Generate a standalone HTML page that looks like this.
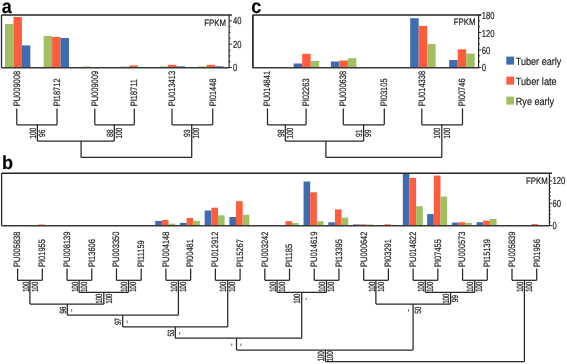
<!DOCTYPE html>
<html><head><meta charset="utf-8"><title>FPKM</title>
<style>
html,body{margin:0;padding:0;background:#fff;}
body{width:567px;height:364px;overflow:hidden;}
svg{display:block;font-family:"Liberation Sans",sans-serif;filter:blur(0.3px);}
text{stroke:#1a1a1a;stroke-width:0.18px;text-rendering:geometricPrecision;}
</style></head><body>
<svg width="567" height="364" viewBox="0 0 567 364">
<rect width="567" height="364" fill="#fff"/>
<text transform="translate(1.7,12.6) scale(0.92,1)" font-size="19.6" font-weight="bold" fill="#000">a</text>
<rect x="5.00" y="24.00" width="8.45" height="43.50" fill="#9fbf61"/>
<rect x="13.45" y="17.00" width="8.45" height="50.50" fill="#ff5d3c"/>
<rect x="21.90" y="45.40" width="8.45" height="22.10" fill="#3e6cae"/>
<rect x="43.64" y="36.00" width="8.45" height="31.50" fill="#9fbf61"/>
<rect x="52.09" y="36.90" width="8.45" height="30.60" fill="#ff5d3c"/>
<rect x="60.54" y="38.00" width="8.45" height="29.50" fill="#3e6cae"/>
<rect x="82.28" y="66.60" width="8.45" height="0.90" fill="#9fbf61"/>
<rect x="120.92" y="66.60" width="8.45" height="0.90" fill="#9fbf61"/>
<rect x="129.37" y="65.40" width="8.45" height="2.10" fill="#ff5d3c"/>
<rect x="159.56" y="66.50" width="8.45" height="1.00" fill="#9fbf61"/>
<rect x="168.01" y="64.80" width="8.45" height="2.70" fill="#ff5d3c"/>
<rect x="176.46" y="66.30" width="8.45" height="1.20" fill="#3e6cae"/>
<rect x="198.20" y="66.50" width="8.45" height="1.00" fill="#9fbf61"/>
<rect x="206.65" y="64.80" width="8.45" height="2.70" fill="#ff5d3c"/>
<rect x="215.10" y="66.30" width="8.45" height="1.20" fill="#3e6cae"/>
<line x1="1.50" y1="15.00" x2="231.90" y2="15.00" stroke="#262626" stroke-width="1.6"/>
<line x1="1.50" y1="15.00" x2="1.50" y2="67.50" stroke="#262626" stroke-width="1.3"/>
<line x1="1.50" y1="67.80" x2="229.10" y2="67.80" stroke="#383838" stroke-width="1.45"/>
<line x1="229.10" y1="15.00" x2="229.10" y2="68.00" stroke="#262626" stroke-width="1.2"/>
<line x1="229.10" y1="67.50" x2="231.90" y2="67.50" stroke="#262626" stroke-width="1.0"/>
<line x1="229.10" y1="61.67" x2="230.50" y2="61.67" stroke="#262626" stroke-width="0.9"/>
<line x1="229.10" y1="55.84" x2="230.50" y2="55.84" stroke="#262626" stroke-width="0.9"/>
<line x1="229.10" y1="50.01" x2="230.50" y2="50.01" stroke="#262626" stroke-width="0.9"/>
<line x1="229.10" y1="44.18" x2="231.90" y2="44.18" stroke="#262626" stroke-width="1.0"/>
<line x1="229.10" y1="38.35" x2="230.50" y2="38.35" stroke="#262626" stroke-width="0.9"/>
<line x1="229.10" y1="32.52" x2="230.50" y2="32.52" stroke="#262626" stroke-width="0.9"/>
<line x1="229.10" y1="26.69" x2="230.50" y2="26.69" stroke="#262626" stroke-width="0.9"/>
<line x1="229.10" y1="20.86" x2="231.90" y2="20.86" stroke="#262626" stroke-width="1.0"/>
<text transform="translate(233.10,24.15) scale(0.75,1)" font-size="10.2" fill="#1a1a1a" text-anchor="start">40</text>
<text transform="translate(233.10,48.05) scale(0.75,1)" font-size="10.2" fill="#1a1a1a" text-anchor="start">20</text>
<text transform="translate(233.10,70.75) scale(0.75,1)" font-size="10.2" fill="#1a1a1a" text-anchor="start">0</text>
<text transform="translate(226.00,25.60) scale(0.845,1)" font-size="9.3" fill="#1a1a1a" text-anchor="end">FPKM</text>
<text transform="translate(19.60,106.30) rotate(-90) scale(0.805,1)" font-size="9.3" fill="#1a1a1a" text-anchor="start">PU009008</text>
<line x1="16.75" y1="108.40" x2="16.75" y2="124.85" stroke="#272727" stroke-width="1.25"/>
<text transform="translate(59.85,106.30) rotate(-90) scale(0.805,1)" font-size="9.3" fill="#1a1a1a" text-anchor="start">PI18712</text>
<line x1="57.00" y1="108.40" x2="57.00" y2="124.85" stroke="#272727" stroke-width="1.25"/>
<text transform="translate(97.65,106.30) rotate(-90) scale(0.805,1)" font-size="9.3" fill="#1a1a1a" text-anchor="start">PU009009</text>
<line x1="94.80" y1="108.40" x2="94.80" y2="124.85" stroke="#272727" stroke-width="1.25"/>
<text transform="translate(137.15,106.30) rotate(-90) scale(0.805,1)" font-size="9.3" fill="#1a1a1a" text-anchor="start">PI18711</text>
<line x1="134.30" y1="108.40" x2="134.30" y2="124.85" stroke="#272727" stroke-width="1.25"/>
<text transform="translate(174.85,106.30) rotate(-90) scale(0.805,1)" font-size="9.3" fill="#1a1a1a" text-anchor="start">PU013413</text>
<line x1="172.00" y1="108.40" x2="172.00" y2="124.85" stroke="#272727" stroke-width="1.25"/>
<text transform="translate(215.55,106.30) rotate(-90) scale(0.805,1)" font-size="9.3" fill="#1a1a1a" text-anchor="start">PI01448</text>
<line x1="212.70" y1="108.40" x2="212.70" y2="124.85" stroke="#272727" stroke-width="1.25"/>
<line x1="16.75" y1="124.85" x2="57.00" y2="124.85" stroke="#272727" stroke-width="1.25"/>
<line x1="37.40" y1="124.85" x2="37.40" y2="141.10" stroke="#272727" stroke-width="1.25"/>
<line x1="94.80" y1="124.85" x2="134.30" y2="124.85" stroke="#272727" stroke-width="1.25"/>
<line x1="114.30" y1="124.85" x2="114.30" y2="141.10" stroke="#272727" stroke-width="1.25"/>
<line x1="37.40" y1="141.10" x2="114.30" y2="141.10" stroke="#272727" stroke-width="1.25"/>
<line x1="81.10" y1="141.10" x2="81.10" y2="157.40" stroke="#272727" stroke-width="1.25"/>
<line x1="172.00" y1="124.85" x2="212.70" y2="124.85" stroke="#272727" stroke-width="1.25"/>
<line x1="191.70" y1="124.85" x2="191.70" y2="157.40" stroke="#272727" stroke-width="1.25"/>
<line x1="81.10" y1="157.40" x2="191.70" y2="157.40" stroke="#272727" stroke-width="1.25"/>
<text transform="translate(36.00,133.28) rotate(-90) scale(0.76,1)" font-size="9.0" fill="#1a1a1a" text-anchor="middle" letter-spacing="-0.2">100</text>
<text transform="translate(45.10,133.28) rotate(-90) scale(0.76,1)" font-size="9.0" fill="#1a1a1a" text-anchor="middle" letter-spacing="-0.2">96</text>
<text transform="translate(112.90,133.28) rotate(-90) scale(0.76,1)" font-size="9.0" fill="#1a1a1a" text-anchor="middle" letter-spacing="-0.2">88</text>
<text transform="translate(122.00,133.28) rotate(-90) scale(0.76,1)" font-size="9.0" fill="#1a1a1a" text-anchor="middle" letter-spacing="-0.2">100</text>
<text transform="translate(190.30,133.28) rotate(-90) scale(0.76,1)" font-size="9.0" fill="#1a1a1a" text-anchor="middle" letter-spacing="-0.2">93</text>
<text transform="translate(199.40,133.28) rotate(-90) scale(0.76,1)" font-size="9.0" fill="#1a1a1a" text-anchor="middle" letter-spacing="-0.2">100</text>
<text transform="translate(251.2,12.6) scale(0.92,1)" font-size="19.6" font-weight="bold" fill="#000">c</text>
<rect x="293.70" y="63.50" width="8.50" height="4.00" fill="#3e6cae"/>
<rect x="302.20" y="53.80" width="8.50" height="13.70" fill="#ff5d3c"/>
<rect x="310.70" y="60.90" width="8.50" height="6.60" fill="#9fbf61"/>
<rect x="330.90" y="61.50" width="8.50" height="6.00" fill="#3e6cae"/>
<rect x="339.40" y="60.50" width="8.50" height="7.00" fill="#ff5d3c"/>
<rect x="347.90" y="58.20" width="8.50" height="9.30" fill="#9fbf61"/>
<rect x="410.20" y="18.20" width="8.50" height="49.30" fill="#3e6cae"/>
<rect x="418.70" y="25.90" width="8.50" height="41.60" fill="#ff5d3c"/>
<rect x="427.20" y="44.10" width="8.50" height="23.40" fill="#9fbf61"/>
<rect x="449.20" y="60.00" width="8.50" height="7.50" fill="#3e6cae"/>
<rect x="457.70" y="49.30" width="8.50" height="18.20" fill="#ff5d3c"/>
<rect x="466.20" y="53.60" width="8.50" height="13.90" fill="#9fbf61"/>
<line x1="252.60" y1="15.00" x2="481.10" y2="15.00" stroke="#262626" stroke-width="1.6"/>
<line x1="252.90" y1="15.00" x2="252.90" y2="68.10" stroke="#262626" stroke-width="1.7"/>
<line x1="252.60" y1="67.80" x2="478.60" y2="67.80" stroke="#383838" stroke-width="1.45"/>
<line x1="478.60" y1="15.00" x2="478.60" y2="68.00" stroke="#262626" stroke-width="1.2"/>
<line x1="478.60" y1="67.50" x2="481.20" y2="67.50" stroke="#262626" stroke-width="1.0"/>
<line x1="478.60" y1="61.67" x2="480.00" y2="61.67" stroke="#262626" stroke-width="0.9"/>
<line x1="478.60" y1="55.83" x2="480.00" y2="55.83" stroke="#262626" stroke-width="0.9"/>
<line x1="478.60" y1="50.00" x2="481.20" y2="50.00" stroke="#262626" stroke-width="1.0"/>
<line x1="478.60" y1="44.17" x2="480.00" y2="44.17" stroke="#262626" stroke-width="0.9"/>
<line x1="478.60" y1="38.34" x2="480.00" y2="38.34" stroke="#262626" stroke-width="0.9"/>
<line x1="478.60" y1="32.50" x2="481.20" y2="32.50" stroke="#262626" stroke-width="1.0"/>
<line x1="478.60" y1="26.67" x2="480.00" y2="26.67" stroke="#262626" stroke-width="0.9"/>
<line x1="478.60" y1="20.84" x2="480.00" y2="20.84" stroke="#262626" stroke-width="0.9"/>
<line x1="478.60" y1="15.00" x2="481.20" y2="15.00" stroke="#262626" stroke-width="1.0"/>
<text transform="translate(481.70,18.65) scale(0.75,1)" font-size="10.2" fill="#1a1a1a" text-anchor="start">180</text>
<text transform="translate(481.70,37.45) scale(0.75,1)" font-size="10.2" fill="#1a1a1a" text-anchor="start">120</text>
<text transform="translate(481.70,53.95) scale(0.75,1)" font-size="10.2" fill="#1a1a1a" text-anchor="start">60</text>
<text transform="translate(481.70,71.25) scale(0.75,1)" font-size="10.2" fill="#1a1a1a" text-anchor="start">0</text>
<text transform="translate(475.50,25.20) scale(0.845,1)" font-size="9.3" fill="#1a1a1a" text-anchor="end">FPKM</text>
<text transform="translate(270.35,106.30) rotate(-90) scale(0.805,1)" font-size="9.3" fill="#1a1a1a" text-anchor="start">PU014841</text>
<line x1="267.50" y1="108.40" x2="267.50" y2="124.85" stroke="#272727" stroke-width="1.25"/>
<text transform="translate(308.95,106.30) rotate(-90) scale(0.805,1)" font-size="9.3" fill="#1a1a1a" text-anchor="start">PI02263</text>
<line x1="306.10" y1="108.40" x2="306.10" y2="124.85" stroke="#272727" stroke-width="1.25"/>
<text transform="translate(346.15,106.30) rotate(-90) scale(0.805,1)" font-size="9.3" fill="#1a1a1a" text-anchor="start">PU000638</text>
<line x1="343.30" y1="108.40" x2="343.30" y2="124.85" stroke="#272727" stroke-width="1.25"/>
<text transform="translate(387.15,106.30) rotate(-90) scale(0.805,1)" font-size="9.3" fill="#1a1a1a" text-anchor="start">PI03105</text>
<line x1="384.30" y1="108.40" x2="384.30" y2="124.85" stroke="#272727" stroke-width="1.25"/>
<text transform="translate(424.65,106.30) rotate(-90) scale(0.805,1)" font-size="9.3" fill="#1a1a1a" text-anchor="start">PU014338</text>
<line x1="421.80" y1="108.40" x2="421.80" y2="124.85" stroke="#272727" stroke-width="1.25"/>
<text transform="translate(465.35,106.30) rotate(-90) scale(0.805,1)" font-size="9.3" fill="#1a1a1a" text-anchor="start">PI00746</text>
<line x1="462.50" y1="108.40" x2="462.50" y2="124.85" stroke="#272727" stroke-width="1.25"/>
<line x1="267.50" y1="124.85" x2="306.10" y2="124.85" stroke="#272727" stroke-width="1.25"/>
<line x1="285.30" y1="124.85" x2="285.30" y2="141.10" stroke="#272727" stroke-width="1.25"/>
<line x1="343.30" y1="124.85" x2="384.30" y2="124.85" stroke="#272727" stroke-width="1.25"/>
<line x1="363.60" y1="124.85" x2="363.60" y2="141.10" stroke="#272727" stroke-width="1.25"/>
<line x1="285.30" y1="141.10" x2="363.60" y2="141.10" stroke="#272727" stroke-width="1.25"/>
<line x1="325.90" y1="141.10" x2="325.90" y2="157.40" stroke="#272727" stroke-width="1.25"/>
<line x1="421.80" y1="124.85" x2="462.50" y2="124.85" stroke="#272727" stroke-width="1.25"/>
<line x1="441.80" y1="124.85" x2="441.80" y2="157.40" stroke="#272727" stroke-width="1.25"/>
<line x1="325.90" y1="157.40" x2="441.80" y2="157.40" stroke="#272727" stroke-width="1.25"/>
<text transform="translate(283.90,133.28) rotate(-90) scale(0.76,1)" font-size="9.0" fill="#1a1a1a" text-anchor="middle" letter-spacing="-0.2">98</text>
<text transform="translate(293.00,133.28) rotate(-90) scale(0.76,1)" font-size="9.0" fill="#1a1a1a" text-anchor="middle" letter-spacing="-0.2">100</text>
<text transform="translate(362.20,133.28) rotate(-90) scale(0.76,1)" font-size="9.0" fill="#1a1a1a" text-anchor="middle" letter-spacing="-0.2">91</text>
<text transform="translate(371.30,133.28) rotate(-90) scale(0.76,1)" font-size="9.0" fill="#1a1a1a" text-anchor="middle" letter-spacing="-0.2">99</text>
<text transform="translate(440.40,133.28) rotate(-90) scale(0.76,1)" font-size="9.0" fill="#1a1a1a" text-anchor="middle" letter-spacing="-0.2">100</text>
<text transform="translate(449.50,133.28) rotate(-90) scale(0.76,1)" font-size="9.0" fill="#1a1a1a" text-anchor="middle" letter-spacing="-0.2">100</text>
<rect x="506.30" y="56.60" width="7.80" height="8.00" fill="#3e6cae"/>
<text x="515.80" y="64.60" font-size="10.5" fill="#1a1a1a" text-anchor="start" textLength="45.5" lengthAdjust="spacingAndGlyphs">Tuber early</text>
<rect x="506.30" y="76.60" width="7.80" height="8.00" fill="#ff5d3c"/>
<text x="515.80" y="84.60" font-size="10.5" fill="#1a1a1a" text-anchor="start" textLength="40.8" lengthAdjust="spacingAndGlyphs">Tuber late</text>
<rect x="506.30" y="96.60" width="7.80" height="8.00" fill="#9fbf61"/>
<text x="515.80" y="104.60" font-size="10.5" fill="#1a1a1a" text-anchor="start" textLength="38.3" lengthAdjust="spacingAndGlyphs">Rye early</text>
<text transform="translate(2.0,168.5) scale(0.96,1)" font-size="18.9" font-weight="bold" fill="#000">b</text>
<rect x="38.27" y="224.50" width="6.65" height="1.10" fill="#ff5d3c"/>
<rect x="155.22" y="220.90" width="6.65" height="4.70" fill="#3e6cae"/>
<rect x="161.87" y="220.00" width="6.65" height="5.60" fill="#ff5d3c"/>
<rect x="168.52" y="223.60" width="6.65" height="2.00" fill="#9fbf61"/>
<rect x="179.94" y="222.90" width="6.65" height="2.70" fill="#3e6cae"/>
<rect x="186.59" y="217.90" width="6.65" height="7.70" fill="#ff5d3c"/>
<rect x="193.24" y="220.90" width="6.65" height="4.70" fill="#9fbf61"/>
<rect x="204.66" y="210.50" width="6.65" height="15.10" fill="#3e6cae"/>
<rect x="211.31" y="207.70" width="6.65" height="17.90" fill="#ff5d3c"/>
<rect x="217.96" y="215.30" width="6.65" height="10.30" fill="#9fbf61"/>
<rect x="229.38" y="217.00" width="6.65" height="8.60" fill="#3e6cae"/>
<rect x="236.03" y="201.20" width="6.65" height="24.40" fill="#ff5d3c"/>
<rect x="242.68" y="214.80" width="6.65" height="10.80" fill="#9fbf61"/>
<rect x="278.82" y="225.00" width="6.65" height="0.60" fill="#3e6cae"/>
<rect x="285.47" y="221.20" width="6.65" height="4.40" fill="#ff5d3c"/>
<rect x="292.12" y="223.00" width="6.65" height="2.60" fill="#9fbf61"/>
<rect x="303.54" y="181.50" width="6.65" height="44.10" fill="#3e6cae"/>
<rect x="310.19" y="192.30" width="6.65" height="33.30" fill="#ff5d3c"/>
<rect x="316.84" y="221.20" width="6.65" height="4.40" fill="#9fbf61"/>
<rect x="328.26" y="222.30" width="6.65" height="3.30" fill="#3e6cae"/>
<rect x="334.91" y="209.40" width="6.65" height="16.20" fill="#ff5d3c"/>
<rect x="341.56" y="217.70" width="6.65" height="7.90" fill="#9fbf61"/>
<rect x="352.98" y="224.40" width="6.65" height="1.20" fill="#3e6cae"/>
<rect x="359.63" y="224.40" width="6.65" height="1.20" fill="#ff5d3c"/>
<rect x="366.28" y="224.50" width="6.65" height="1.10" fill="#9fbf61"/>
<rect x="384.35" y="224.30" width="6.65" height="1.30" fill="#ff5d3c"/>
<rect x="402.82" y="173.90" width="6.65" height="51.70" fill="#3e6cae"/>
<rect x="409.47" y="177.90" width="6.65" height="47.70" fill="#ff5d3c"/>
<rect x="416.12" y="206.20" width="6.65" height="19.40" fill="#9fbf61"/>
<rect x="427.14" y="214.10" width="6.65" height="11.50" fill="#3e6cae"/>
<rect x="433.79" y="175.60" width="6.65" height="50.00" fill="#ff5d3c"/>
<rect x="440.44" y="196.50" width="6.65" height="29.10" fill="#9fbf61"/>
<rect x="451.86" y="222.60" width="6.65" height="3.00" fill="#3e6cae"/>
<rect x="458.51" y="222.20" width="6.65" height="3.40" fill="#ff5d3c"/>
<rect x="465.16" y="222.90" width="6.65" height="2.70" fill="#9fbf61"/>
<rect x="476.58" y="222.20" width="6.65" height="3.40" fill="#3e6cae"/>
<rect x="483.23" y="220.60" width="6.65" height="5.00" fill="#ff5d3c"/>
<rect x="489.88" y="219.00" width="6.65" height="6.60" fill="#9fbf61"/>
<rect x="531.27" y="224.10" width="6.65" height="1.50" fill="#ff5d3c"/>
<line x1="1.60" y1="173.25" x2="552.00" y2="173.25" stroke="#262626" stroke-width="1.6"/>
<line x1="1.60" y1="173.25" x2="1.60" y2="225.60" stroke="#262626" stroke-width="1.3"/>
<line x1="1.60" y1="225.80" x2="549.40" y2="225.80" stroke="#383838" stroke-width="1.45"/>
<line x1="549.40" y1="173.25" x2="549.40" y2="226.10" stroke="#262626" stroke-width="1.2"/>
<line x1="549.40" y1="225.60" x2="552.00" y2="225.60" stroke="#262626" stroke-width="1.0"/>
<line x1="549.40" y1="221.88" x2="550.80" y2="221.88" stroke="#262626" stroke-width="0.9"/>
<line x1="549.40" y1="218.15" x2="550.80" y2="218.15" stroke="#262626" stroke-width="0.9"/>
<line x1="549.40" y1="214.43" x2="550.80" y2="214.43" stroke="#262626" stroke-width="0.9"/>
<line x1="549.40" y1="210.70" x2="550.80" y2="210.70" stroke="#262626" stroke-width="0.9"/>
<line x1="549.40" y1="206.97" x2="550.80" y2="206.97" stroke="#262626" stroke-width="0.9"/>
<line x1="549.40" y1="203.25" x2="552.00" y2="203.25" stroke="#262626" stroke-width="1.0"/>
<line x1="549.40" y1="199.53" x2="550.80" y2="199.53" stroke="#262626" stroke-width="0.9"/>
<line x1="549.40" y1="195.80" x2="550.80" y2="195.80" stroke="#262626" stroke-width="0.9"/>
<line x1="549.40" y1="192.07" x2="550.80" y2="192.07" stroke="#262626" stroke-width="0.9"/>
<line x1="549.40" y1="188.35" x2="550.80" y2="188.35" stroke="#262626" stroke-width="0.9"/>
<line x1="549.40" y1="184.62" x2="550.80" y2="184.62" stroke="#262626" stroke-width="0.9"/>
<line x1="549.40" y1="180.90" x2="552.00" y2="180.90" stroke="#262626" stroke-width="1.0"/>
<line x1="549.40" y1="177.18" x2="550.80" y2="177.18" stroke="#262626" stroke-width="0.9"/>
<line x1="549.40" y1="173.45" x2="550.80" y2="173.45" stroke="#262626" stroke-width="0.9"/>
<text transform="translate(552.60,184.35) scale(0.75,1)" font-size="10.2" fill="#1a1a1a" text-anchor="start">120</text>
<text transform="translate(552.60,207.25) scale(0.75,1)" font-size="10.2" fill="#1a1a1a" text-anchor="start">60</text>
<text transform="translate(552.60,228.85) scale(0.75,1)" font-size="10.2" fill="#1a1a1a" text-anchor="start">0</text>
<text transform="translate(547.70,184.00) scale(0.845,1)" font-size="9.3" fill="#1a1a1a" text-anchor="end">FPKM</text>
<text transform="translate(20.45,267.00) rotate(-90) scale(0.805,1)" font-size="9.3" fill="#1a1a1a" text-anchor="start">PU005838</text>
<line x1="17.60" y1="268.50" x2="17.60" y2="280.30" stroke="#272727" stroke-width="1.25"/>
<text transform="translate(45.17,267.00) rotate(-90) scale(0.805,1)" font-size="9.3" fill="#1a1a1a" text-anchor="start">PI01955</text>
<line x1="42.32" y1="268.50" x2="42.32" y2="280.30" stroke="#272727" stroke-width="1.25"/>
<text transform="translate(69.89,267.00) rotate(-90) scale(0.805,1)" font-size="9.3" fill="#1a1a1a" text-anchor="start">PU008139</text>
<line x1="67.04" y1="268.50" x2="67.04" y2="280.30" stroke="#272727" stroke-width="1.25"/>
<text transform="translate(94.61,267.00) rotate(-90) scale(0.805,1)" font-size="9.3" fill="#1a1a1a" text-anchor="start">PI13606</text>
<line x1="91.76" y1="268.50" x2="91.76" y2="280.30" stroke="#272727" stroke-width="1.25"/>
<text transform="translate(119.33,267.00) rotate(-90) scale(0.805,1)" font-size="9.3" fill="#1a1a1a" text-anchor="start">PU003350</text>
<line x1="116.48" y1="268.50" x2="116.48" y2="280.30" stroke="#272727" stroke-width="1.25"/>
<text transform="translate(144.05,267.00) rotate(-90) scale(0.805,1)" font-size="9.3" fill="#1a1a1a" text-anchor="start">PI11159</text>
<line x1="141.20" y1="268.50" x2="141.20" y2="280.30" stroke="#272727" stroke-width="1.25"/>
<text transform="translate(168.77,267.00) rotate(-90) scale(0.805,1)" font-size="9.3" fill="#1a1a1a" text-anchor="start">PU004148</text>
<line x1="165.92" y1="268.50" x2="165.92" y2="280.30" stroke="#272727" stroke-width="1.25"/>
<text transform="translate(193.49,267.00) rotate(-90) scale(0.805,1)" font-size="9.3" fill="#1a1a1a" text-anchor="start">PI00481</text>
<line x1="190.64" y1="268.50" x2="190.64" y2="280.30" stroke="#272727" stroke-width="1.25"/>
<text transform="translate(218.21,267.00) rotate(-90) scale(0.805,1)" font-size="9.3" fill="#1a1a1a" text-anchor="start">PU012912</text>
<line x1="215.36" y1="268.50" x2="215.36" y2="280.30" stroke="#272727" stroke-width="1.25"/>
<text transform="translate(242.93,267.00) rotate(-90) scale(0.805,1)" font-size="9.3" fill="#1a1a1a" text-anchor="start">PI15267</text>
<line x1="240.08" y1="268.50" x2="240.08" y2="280.30" stroke="#272727" stroke-width="1.25"/>
<text transform="translate(267.65,267.00) rotate(-90) scale(0.805,1)" font-size="9.3" fill="#1a1a1a" text-anchor="start">PU003242</text>
<line x1="264.80" y1="268.50" x2="264.80" y2="280.30" stroke="#272727" stroke-width="1.25"/>
<text transform="translate(292.37,267.00) rotate(-90) scale(0.805,1)" font-size="9.3" fill="#1a1a1a" text-anchor="start">PI1185</text>
<line x1="289.52" y1="268.50" x2="289.52" y2="280.30" stroke="#272727" stroke-width="1.25"/>
<text transform="translate(317.09,267.00) rotate(-90) scale(0.805,1)" font-size="9.3" fill="#1a1a1a" text-anchor="start">PU014619</text>
<line x1="314.24" y1="268.50" x2="314.24" y2="280.30" stroke="#272727" stroke-width="1.25"/>
<text transform="translate(341.81,267.00) rotate(-90) scale(0.805,1)" font-size="9.3" fill="#1a1a1a" text-anchor="start">PI13395</text>
<line x1="338.96" y1="268.50" x2="338.96" y2="280.30" stroke="#272727" stroke-width="1.25"/>
<text transform="translate(366.53,267.00) rotate(-90) scale(0.805,1)" font-size="9.3" fill="#1a1a1a" text-anchor="start">PU000642</text>
<line x1="363.68" y1="268.50" x2="363.68" y2="280.30" stroke="#272727" stroke-width="1.25"/>
<text transform="translate(391.25,267.00) rotate(-90) scale(0.805,1)" font-size="9.3" fill="#1a1a1a" text-anchor="start">PI03291</text>
<line x1="388.40" y1="268.50" x2="388.40" y2="280.30" stroke="#272727" stroke-width="1.25"/>
<text transform="translate(415.97,267.00) rotate(-90) scale(0.805,1)" font-size="9.3" fill="#1a1a1a" text-anchor="start">PU014822</text>
<line x1="413.12" y1="268.50" x2="413.12" y2="280.30" stroke="#272727" stroke-width="1.25"/>
<text transform="translate(440.69,267.00) rotate(-90) scale(0.805,1)" font-size="9.3" fill="#1a1a1a" text-anchor="start">PI07455</text>
<line x1="437.84" y1="268.50" x2="437.84" y2="280.30" stroke="#272727" stroke-width="1.25"/>
<text transform="translate(465.41,267.00) rotate(-90) scale(0.805,1)" font-size="9.3" fill="#1a1a1a" text-anchor="start">PU000573</text>
<line x1="462.56" y1="268.50" x2="462.56" y2="280.30" stroke="#272727" stroke-width="1.25"/>
<text transform="translate(490.13,267.00) rotate(-90) scale(0.805,1)" font-size="9.3" fill="#1a1a1a" text-anchor="start">PI15139</text>
<line x1="487.28" y1="268.50" x2="487.28" y2="280.30" stroke="#272727" stroke-width="1.25"/>
<text transform="translate(514.85,267.00) rotate(-90) scale(0.805,1)" font-size="9.3" fill="#1a1a1a" text-anchor="start">PU005839</text>
<line x1="512.00" y1="268.50" x2="512.00" y2="280.30" stroke="#272727" stroke-width="1.25"/>
<text transform="translate(539.57,267.00) rotate(-90) scale(0.805,1)" font-size="9.3" fill="#1a1a1a" text-anchor="start">PI01956</text>
<line x1="536.72" y1="268.50" x2="536.72" y2="280.30" stroke="#272727" stroke-width="1.25"/>
<line x1="17.60" y1="280.30" x2="42.32" y2="280.30" stroke="#272727" stroke-width="1.25"/>
<line x1="29.90" y1="280.30" x2="29.90" y2="304.00" stroke="#272727" stroke-width="1.25"/>
<line x1="67.04" y1="280.30" x2="91.76" y2="280.30" stroke="#272727" stroke-width="1.25"/>
<line x1="79.10" y1="280.30" x2="79.10" y2="292.30" stroke="#272727" stroke-width="1.25"/>
<line x1="116.48" y1="280.30" x2="141.20" y2="280.30" stroke="#272727" stroke-width="1.25"/>
<line x1="128.50" y1="280.30" x2="128.50" y2="292.30" stroke="#272727" stroke-width="1.25"/>
<line x1="79.10" y1="292.30" x2="128.50" y2="292.30" stroke="#272727" stroke-width="1.25"/>
<line x1="103.80" y1="292.30" x2="103.80" y2="304.00" stroke="#272727" stroke-width="1.25"/>
<line x1="29.90" y1="304.00" x2="103.80" y2="304.00" stroke="#272727" stroke-width="1.25"/>
<line x1="67.30" y1="304.00" x2="67.30" y2="315.20" stroke="#272727" stroke-width="1.25"/>
<line x1="165.92" y1="280.30" x2="190.64" y2="280.30" stroke="#272727" stroke-width="1.25"/>
<line x1="178.40" y1="280.30" x2="178.40" y2="315.20" stroke="#272727" stroke-width="1.25"/>
<line x1="67.30" y1="315.20" x2="178.40" y2="315.20" stroke="#272727" stroke-width="1.25"/>
<line x1="122.70" y1="315.20" x2="122.70" y2="326.90" stroke="#272727" stroke-width="1.25"/>
<line x1="215.36" y1="280.30" x2="240.08" y2="280.30" stroke="#272727" stroke-width="1.25"/>
<line x1="227.70" y1="280.30" x2="227.70" y2="326.90" stroke="#272727" stroke-width="1.25"/>
<line x1="122.70" y1="326.90" x2="227.70" y2="326.90" stroke="#272727" stroke-width="1.25"/>
<line x1="175.30" y1="326.90" x2="175.30" y2="338.20" stroke="#272727" stroke-width="1.25"/>
<line x1="264.80" y1="280.30" x2="289.52" y2="280.30" stroke="#272727" stroke-width="1.25"/>
<line x1="277.10" y1="280.30" x2="277.10" y2="292.30" stroke="#272727" stroke-width="1.25"/>
<line x1="314.24" y1="280.30" x2="338.96" y2="280.30" stroke="#272727" stroke-width="1.25"/>
<line x1="326.50" y1="280.30" x2="326.50" y2="292.30" stroke="#272727" stroke-width="1.25"/>
<line x1="277.10" y1="292.30" x2="326.50" y2="292.30" stroke="#272727" stroke-width="1.25"/>
<line x1="301.70" y1="292.30" x2="301.70" y2="338.20" stroke="#272727" stroke-width="1.25"/>
<line x1="175.30" y1="338.20" x2="301.70" y2="338.20" stroke="#272727" stroke-width="1.25"/>
<line x1="236.50" y1="338.20" x2="236.50" y2="350.00" stroke="#272727" stroke-width="1.25"/>
<line x1="363.68" y1="280.30" x2="388.40" y2="280.30" stroke="#272727" stroke-width="1.25"/>
<line x1="375.90" y1="280.30" x2="375.90" y2="304.00" stroke="#272727" stroke-width="1.25"/>
<line x1="413.12" y1="280.30" x2="437.84" y2="280.30" stroke="#272727" stroke-width="1.25"/>
<line x1="425.30" y1="280.30" x2="425.30" y2="292.30" stroke="#272727" stroke-width="1.25"/>
<line x1="462.56" y1="280.30" x2="487.28" y2="280.30" stroke="#272727" stroke-width="1.25"/>
<line x1="474.70" y1="280.30" x2="474.70" y2="292.30" stroke="#272727" stroke-width="1.25"/>
<line x1="425.30" y1="292.30" x2="474.70" y2="292.30" stroke="#272727" stroke-width="1.25"/>
<line x1="450.60" y1="292.30" x2="450.60" y2="304.00" stroke="#272727" stroke-width="1.25"/>
<line x1="375.90" y1="304.00" x2="450.60" y2="304.00" stroke="#272727" stroke-width="1.25"/>
<line x1="413.10" y1="304.00" x2="413.10" y2="350.00" stroke="#272727" stroke-width="1.25"/>
<line x1="236.50" y1="350.00" x2="413.10" y2="350.00" stroke="#272727" stroke-width="1.25"/>
<line x1="325.40" y1="350.00" x2="325.40" y2="361.60" stroke="#272727" stroke-width="1.25"/>
<line x1="512.00" y1="280.30" x2="536.72" y2="280.30" stroke="#272727" stroke-width="1.25"/>
<line x1="524.40" y1="280.30" x2="524.40" y2="361.60" stroke="#272727" stroke-width="1.25"/>
<line x1="325.40" y1="361.60" x2="524.40" y2="361.60" stroke="#272727" stroke-width="1.25"/>
<text transform="translate(28.50,287.00) rotate(-90) scale(0.74,1)" font-size="9.0" fill="#1a1a1a" text-anchor="middle" letter-spacing="-0.5">100</text>
<text transform="translate(37.60,287.00) rotate(-90) scale(0.74,1)" font-size="9.0" fill="#1a1a1a" text-anchor="middle" letter-spacing="-0.5">100</text>
<text transform="translate(77.70,287.00) rotate(-90) scale(0.74,1)" font-size="9.0" fill="#1a1a1a" text-anchor="middle" letter-spacing="-0.5">100</text>
<text transform="translate(86.80,287.00) rotate(-90) scale(0.74,1)" font-size="9.0" fill="#1a1a1a" text-anchor="middle" letter-spacing="-0.5">100</text>
<text transform="translate(127.10,287.00) rotate(-90) scale(0.74,1)" font-size="9.0" fill="#1a1a1a" text-anchor="middle" letter-spacing="-0.5">100</text>
<text transform="translate(136.20,287.00) rotate(-90) scale(0.74,1)" font-size="9.0" fill="#1a1a1a" text-anchor="middle" letter-spacing="-0.5">100</text>
<text transform="translate(177.00,287.00) rotate(-90) scale(0.74,1)" font-size="9.0" fill="#1a1a1a" text-anchor="middle" letter-spacing="-0.5">100</text>
<text transform="translate(186.10,287.00) rotate(-90) scale(0.74,1)" font-size="9.0" fill="#1a1a1a" text-anchor="middle" letter-spacing="-0.5">100</text>
<text transform="translate(226.30,287.00) rotate(-90) scale(0.74,1)" font-size="9.0" fill="#1a1a1a" text-anchor="middle" letter-spacing="-0.5">100</text>
<text transform="translate(235.40,287.00) rotate(-90) scale(0.74,1)" font-size="9.0" fill="#1a1a1a" text-anchor="middle" letter-spacing="-0.5">100</text>
<text transform="translate(275.70,287.00) rotate(-90) scale(0.74,1)" font-size="9.0" fill="#1a1a1a" text-anchor="middle" letter-spacing="-0.5">100</text>
<text transform="translate(284.80,287.00) rotate(-90) scale(0.74,1)" font-size="9.0" fill="#1a1a1a" text-anchor="middle" letter-spacing="-0.5">100</text>
<text transform="translate(325.10,287.00) rotate(-90) scale(0.74,1)" font-size="9.0" fill="#1a1a1a" text-anchor="middle" letter-spacing="-0.5">100</text>
<text transform="translate(334.20,287.00) rotate(-90) scale(0.74,1)" font-size="9.0" fill="#1a1a1a" text-anchor="middle" letter-spacing="-0.5">100</text>
<text transform="translate(374.50,287.00) rotate(-90) scale(0.74,1)" font-size="9.0" fill="#1a1a1a" text-anchor="middle" letter-spacing="-0.5">100</text>
<text transform="translate(383.60,287.00) rotate(-90) scale(0.74,1)" font-size="9.0" fill="#1a1a1a" text-anchor="middle" letter-spacing="-0.5">100</text>
<text transform="translate(423.90,287.00) rotate(-90) scale(0.74,1)" font-size="9.0" fill="#1a1a1a" text-anchor="middle" letter-spacing="-0.5">100</text>
<text transform="translate(433.00,287.00) rotate(-90) scale(0.74,1)" font-size="9.0" fill="#1a1a1a" text-anchor="middle" letter-spacing="-0.5">100</text>
<text transform="translate(473.30,287.00) rotate(-90) scale(0.74,1)" font-size="9.0" fill="#1a1a1a" text-anchor="middle" letter-spacing="-0.5">100</text>
<text transform="translate(482.40,287.00) rotate(-90) scale(0.74,1)" font-size="9.0" fill="#1a1a1a" text-anchor="middle" letter-spacing="-0.5">100</text>
<text transform="translate(523.00,287.00) rotate(-90) scale(0.74,1)" font-size="9.0" fill="#1a1a1a" text-anchor="middle" letter-spacing="-0.5">100</text>
<text transform="translate(532.10,287.00) rotate(-90) scale(0.74,1)" font-size="9.0" fill="#1a1a1a" text-anchor="middle" letter-spacing="-0.5">100</text>
<text transform="translate(102.40,298.85) rotate(-90) scale(0.74,1)" font-size="9.0" fill="#1a1a1a" text-anchor="middle" letter-spacing="-0.5">100</text>
<text transform="translate(111.50,298.85) rotate(-90) scale(0.74,1)" font-size="9.0" fill="#1a1a1a" text-anchor="middle" letter-spacing="-0.5">100</text>
<text transform="translate(65.90,310.30) rotate(-90) scale(0.74,1)" font-size="9.0" fill="#1a1a1a" text-anchor="middle" letter-spacing="-0.5">98</text>
<rect x="71.25" y="309.00" width="0.90" height="2.60" fill="#5a5a5a"/>
<text transform="translate(121.30,321.75) rotate(-90) scale(0.74,1)" font-size="9.0" fill="#1a1a1a" text-anchor="middle" letter-spacing="-0.5">97</text>
<rect x="126.65" y="320.45" width="0.90" height="2.60" fill="#5a5a5a"/>
<text transform="translate(173.90,333.25) rotate(-90) scale(0.74,1)" font-size="9.0" fill="#1a1a1a" text-anchor="middle" letter-spacing="-0.5">53</text>
<rect x="179.25" y="331.95" width="0.90" height="2.60" fill="#5a5a5a"/>
<text transform="translate(300.30,298.85) rotate(-90) scale(0.74,1)" font-size="9.0" fill="#1a1a1a" text-anchor="middle" letter-spacing="-0.5">100</text>
<rect x="305.65" y="297.55" width="0.90" height="2.60" fill="#5a5a5a"/>
<rect x="231.35" y="343.50" width="0.90" height="2.60" fill="#5a5a5a"/>
<rect x="240.45" y="343.50" width="0.90" height="2.60" fill="#5a5a5a"/>
<text transform="translate(449.20,298.85) rotate(-90) scale(0.74,1)" font-size="9.0" fill="#1a1a1a" text-anchor="middle" letter-spacing="-0.5">100</text>
<text transform="translate(458.30,298.85) rotate(-90) scale(0.74,1)" font-size="9.0" fill="#1a1a1a" text-anchor="middle" letter-spacing="-0.5">99</text>
<rect x="407.95" y="309.00" width="0.90" height="2.60" fill="#5a5a5a"/>
<text transform="translate(420.80,310.30) rotate(-90) scale(0.74,1)" font-size="9.0" fill="#1a1a1a" text-anchor="middle" letter-spacing="-0.5">50</text>
<text transform="translate(324.00,356.50) rotate(-90) scale(0.74,1)" font-size="9.0" fill="#1a1a1a" text-anchor="middle" letter-spacing="-0.5">100</text>
<text transform="translate(333.10,356.50) rotate(-90) scale(0.74,1)" font-size="9.0" fill="#1a1a1a" text-anchor="middle" letter-spacing="-0.5">100</text>
</svg>
</body></html>
